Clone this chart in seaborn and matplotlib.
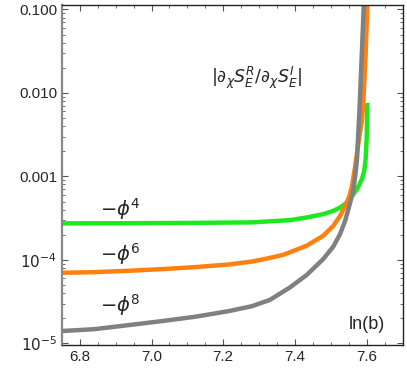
import numpy as np
import pandas as pd
import seaborn as sns
import matplotlib.pyplot as plt
from matplotlib.ticker import FixedLocator, MultipleLocator, LogLocator, NullFormatter

# log10 values
x_phi4 = [6.748, 6.935, 7.121, 7.280, 7.386, 7.433, 7.479, 7.507, 7.526, 7.545,
          7.559, 7.573, 7.587, 7.593, 7.597, 7.600, 7.601, 7.602]
y_phi4 = [-3.563, -3.561, -3.557, -3.551, -3.524, -3.492, -3.452, -3.413, -3.373, -3.313,
          -3.234, -3.155, -3.03, -2.94, -2.80, -2.55, -2.30, -2.12]

x_phi6 = [6.748, 6.841, 6.935, 7.028, 7.121, 7.214, 7.280, 7.321, 7.367, 7.386, 7.433,
          7.479, 7.507, 7.526, 7.540, 7.552, 7.559, 7.568, 7.577, 7.587, 7.591, 7.597, 7.602]
y_phi6 = [-4.155, -4.147, -4.131, -4.111, -4.087, -4.056, -4.020, -3.985, -3.94, -3.909, -3.830,
          -3.711, -3.592, -3.473, -3.354, -3.234, -3.12, -2.877, -2.599, -2.321, -2.083, -1.548, -0.95]

x_phi8 = [6.748, 6.841, 6.935, 7.028, 7.121, 7.214, 7.280, 7.330, 7.386, 7.433, 7.479,
          7.507, 7.526, 7.540, 7.549, 7.559, 7.563, 7.568, 7.573, 7.580, 7.586, 7.592]
y_phi8 = [-4.853, -4.83, -4.782, -4.734, -4.682, -4.615, -4.555, -4.48, -4.33, -4.18, -3.99,
          -3.84, -3.690, -3.532, -3.393, -3.234, -3.155, -2.996, -2.798, -2.202, -1.58, -0.95]

ytick_vals = [1e-5, 1e-4, 1e-3, 1e-2, 1e-1]
ytick_labels = [r'$10^{-5}$', r'$10^{-4}$', '0.001', '0.010', '0.100']

sns.set_style("ticks")
plt.rcParams['font.family'] = ['Liberation Sans', 'DejaVu Sans']
plt.rcParams['mathtext.fontset'] = 'dejavusans'

fig = plt.figure(figsize=(4.07, 3.91), dpi=100)
ax = fig.add_axes([0.152, 0.1176, 0.837, 0.869])

series = [(x_phi4, y_phi4, '#1ee81e'), (x_phi6, y_phi6, '#ff800e'), (x_phi8, y_phi8, '#808080')]
for xs, ys, c in series:
    df = pd.DataFrame({'lnb': xs, 'val': 10 ** np.array(ys)})
    sns.lineplot(data=df, x='lnb', y='val', color=c, linewidth=3.2, ax=ax,
                 solid_capstyle='butt', solid_joinstyle='round')

ax.set_yscale('log')
ax.set_xlim(6.75, 7.70)
ax.set_ylim(10 ** -5.02, 10 ** -0.95)
ax.set_xlabel('')
ax.set_ylabel('')

ax.yaxis.set_major_locator(FixedLocator(ytick_vals))
ax.set_yticklabels(ytick_labels)
ax.yaxis.set_minor_locator(LogLocator(base=10, subs=np.arange(2, 10)))
ax.yaxis.set_minor_formatter(NullFormatter())
ax.xaxis.set_major_locator(MultipleLocator(0.2))
ax.xaxis.set_minor_locator(MultipleLocator(0.05))
ax.xaxis.set_major_formatter(plt.FuncFormatter(lambda v, p: f'{v:.1f}'))

ax.tick_params(which='both', direction='in', top=True, right=True,
               labelsize=11, color='#555555')
ax.tick_params(which='major', length=4, width=0.8)
ax.tick_params(which='minor', length=2, width=0.6)

for s in ['top', 'right', 'bottom']:
    ax.spines[s].set_color('#222222')
    ax.spines[s].set_linewidth(1.0)
ax.spines['left'].set_color('#888888')
ax.spines['left'].set_linewidth(1.6)

ax.text(6.855, 10 ** -3.39, r'$-\phi^4$', fontsize=14, va='center', ha='left')
ax.text(6.855, 10 ** -3.93, r'$-\phi^6$', fontsize=14, va='center', ha='left')
ax.text(6.855, 10 ** -4.54, r'$-\phi^8$', fontsize=14, va='center', ha='left')
ax.text(7.167, 10 ** -1.82, r'$|\partial_\chi S_E^R/\partial_\chi S_E^I|$',
        fontsize=12.5, va='center', ha='left')
ax.text(7.550, 10 ** -4.78, 'ln(b)', fontsize=13, va='center', ha='left')

fig.savefig('out.png', dpi=100)
